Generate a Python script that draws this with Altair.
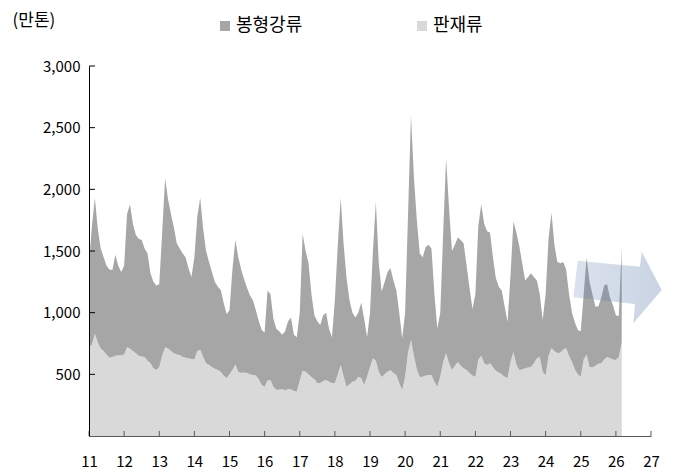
import altair as alt
import pandas as pd

FONT = "Noto Sans CJK KR"

# Monthly observations starting 2011-01 (만톤)
start_year = 2011

# top of the stack (봉형강류 + 판재류)
total_stock = [
    1390, 1700, 1930, 1680, 1520, 1450, 1380, 1350, 1345, 1470, 1380, 1330,  # 2011
    1380, 1800, 1880, 1720, 1630, 1600, 1590, 1520, 1480, 1320, 1250, 1220,  # 2012
    1230, 1650, 2090, 1920, 1800, 1690, 1560, 1520, 1480, 1450, 1360, 1290,  # 2013
    1450, 1780, 1930, 1680, 1500, 1410, 1330, 1250, 1210, 1185, 1080, 990,   # 2014
    1020, 1350, 1590, 1450, 1350, 1270, 1200, 1140, 1100, 1020, 930, 860,    # 2015
    840, 1180, 1150, 950, 870, 850, 820, 850, 930, 960, 820, 800,            # 2016
    1000, 1640, 1500, 1400, 1150, 980, 930, 900, 980, 1000, 870, 800,        # 2017
    1100, 1550, 1930, 1550, 1280, 1100, 1000, 960, 1000, 1080, 950, 800,     # 2018
    1000, 1500, 1900, 1400, 1170, 1250, 1330, 1360, 1260, 1180, 1000, 790,   # 2019
    1000, 1800, 2600, 2100, 1750, 1480, 1450, 1530, 1550, 1520, 1150, 870,   # 2020
    1000, 1650, 2250, 1850, 1500, 1550, 1610, 1590, 1560, 1380, 1200, 1030,  # 2021
    1150, 1700, 1880, 1720, 1660, 1650, 1450, 1280, 1210, 1180, 1050, 925,   # 2022
    1300, 1740, 1650, 1540, 1400, 1260, 1290, 1320, 1290, 1260, 1150, 940,   # 2023
    1150, 1600, 1810, 1550, 1410, 1400, 1410, 1350, 1150, 1000, 920, 860,    # 2024
    850, 1150, 1450, 1250, 1150, 1050, 1050, 1120, 1220, 1230, 1120, 1060,   # 2025
    980, 970, 1530,                                                          # 2026
]

# 판재류 (bottom layer)
plate_stock = [
    720, 740, 830, 760, 710, 690, 660, 635, 640, 650, 655, 655,  # 2011
    660, 720, 710, 690, 670, 650, 645, 640, 610, 590, 550, 535,  # 2012
    560, 650, 720, 710, 690, 670, 660, 657, 640, 635, 630, 625,  # 2013
    620, 690, 700, 640, 590, 575, 560, 545, 535, 520, 490, 470,  # 2014
    500, 535, 580, 520, 510, 515, 510, 500, 495, 490, 460, 413,  # 2015
    400, 450, 454, 400, 375, 375, 380, 370, 380, 380, 365, 360,  # 2016
    450, 530, 520, 500, 478, 460, 430, 430, 445, 454, 440, 430,  # 2017
    430, 500, 576, 480, 400, 420, 440, 445, 480, 470, 413, 480,  # 2018
    560, 630, 610, 520, 478, 500, 520, 535, 510, 495, 430, 373,  # 2019
    480, 680, 779, 650, 540, 478, 480, 490, 495, 495, 440, 400,  # 2020
    480, 600, 673, 590, 535, 570, 600, 570, 550, 535, 510, 490,  # 2021
    478, 620, 650, 590, 576, 590, 560, 530, 515, 500, 480, 470,  # 2022
    600, 681, 580, 535, 540, 550, 555, 560, 590, 630, 640, 520,  # 2023
    490, 650, 713, 690, 673, 675, 700, 713, 650, 600, 540, 500,  # 2024
    480, 620, 660, 560, 555, 570, 585, 590, 620, 640, 630, 620,  # 2025
    616, 640, 760,                                               # 2026
]

series_names = ["봉형강류", "판재류"]
series_colors = ["#a6a6a6", "#d9d9d9"]
year_ticks = list(range(2011, 2028))
value_ticks = [500, 1000, 1500, 2000, 2500, 3000]
unit_label = "(만톤)"

ARROW_PATH = ("M-0.884,-0.596 L0.5,-0.462 L0.538,-0.796 L0.982,0.056 "
              "L0.351,0.796 L0.389,0.367 L-0.982,0.218 Z")

rows = []
for i, (tot, pl) in enumerate(zip(total_stock, plate_stock)):
    t = start_year + i / 12
    rows.append({"t": t, "kind": series_names[1], "lo": 0, "hi": pl})
    rows.append({"t": t, "kind": series_names[0], "lo": pl, "hi": tot})
df = pd.DataFrame(rows)

W, H = 562, 370
x_scale = alt.Scale(domain=[2011, 2027], nice=False, zero=False)
y_scale = alt.Scale(domain=[0, 3000], nice=False)

x_axis = alt.Axis(values=year_ticks,
                  labelExpr="substring(toString(datum.value), 2, 4)",
                  title=None, ticks=False, grid=False, labelPadding=18,
                  labelFontSize=15, labelFont=FONT, labelColor="#000",
                  domainColor="#595959", labelFlush=False,
                  labelOverlap=False, zindex=1)
y_axis = alt.Axis(values=value_ticks,
                  labelExpr="format(datum.value, ',')",
                  title=unit_label, titleAngle=0, titleAlign="left",
                  titleBaseline="middle", titleX=-77, titleY=-46,
                  titleFont=FONT, titleFontSize=17, titleFontWeight="normal",
                  titleColor="#000",
                  ticks=False, grid=False, labelPadding=9,
                  labelFontSize=15, labelFont=FONT, labelColor="#000",
                  labelOverlap=False, domainColor="#000", zindex=1)

area = alt.Chart(df).mark_area(interpolate="linear").encode(
    x=alt.X("t:Q", scale=x_scale, axis=x_axis),
    y=alt.Y("hi:Q", scale=y_scale, stack=None, axis=y_axis),
    y2="lo:Q",
    color=alt.Color("kind:N",
                    scale=alt.Scale(domain=series_names, range=series_colors),
                    legend=alt.Legend(title=None, orient="none", legendX=127,
                                      legendY=-49, direction="horizontal",
                                      symbolType="square", symbolSize=100,
                                      symbolStrokeWidth=0, labelFontSize=18,
                                      labelFont=FONT, labelColor="#000",
                                      labelOffset=2, columnPadding=110,
                                      padding=0)),
)

x_ticks = alt.Chart(pd.DataFrame({"t": year_ticks})).mark_rule(
    color="#595959", strokeWidth=1
).encode(x=alt.X("t:Q", scale=x_scale, axis=x_axis),
         y=alt.value(H), y2=alt.value(H - 5))

y_tick_marks = alt.Chart(pd.DataFrame({"hi": value_ticks})).mark_rule(
    color="#000", strokeWidth=1
).encode(y=alt.Y("hi:Q", scale=y_scale, axis=y_axis),
         x=alt.value(0), x2=alt.value(6))

arrow_fill = alt.LinearGradient(
    gradient="linear", x1=0, y1=0, x2=1, y2=0,
    stops=[alt.GradientStop(offset=0, color="rgba(91,123,171,0.22)"),
           alt.GradientStop(offset=1, color="rgba(91,123,171,0.33)")])

arrow = alt.Chart(pd.DataFrame({"a": [0]})).mark_point(
    shape=ARROW_PATH, size=8100, filled=True, fill=arrow_fill,
    strokeWidth=0, opacity=1
).encode(x=alt.value(528.5), y=alt.value(221.5))

chart = alt.layer(area, x_ticks, y_tick_marks, arrow).properties(
    width=W, height=H,
    autosize=alt.AutoSizeParams(type="none"),
    padding={"left": 81, "top": 58, "right": 26, "bottom": 36},
    background="white",
).configure_view(stroke=None).configure_axis(labelOverlap=False)

chart.save("out.html", embed_options={"renderer": "svg", "actions": False})
